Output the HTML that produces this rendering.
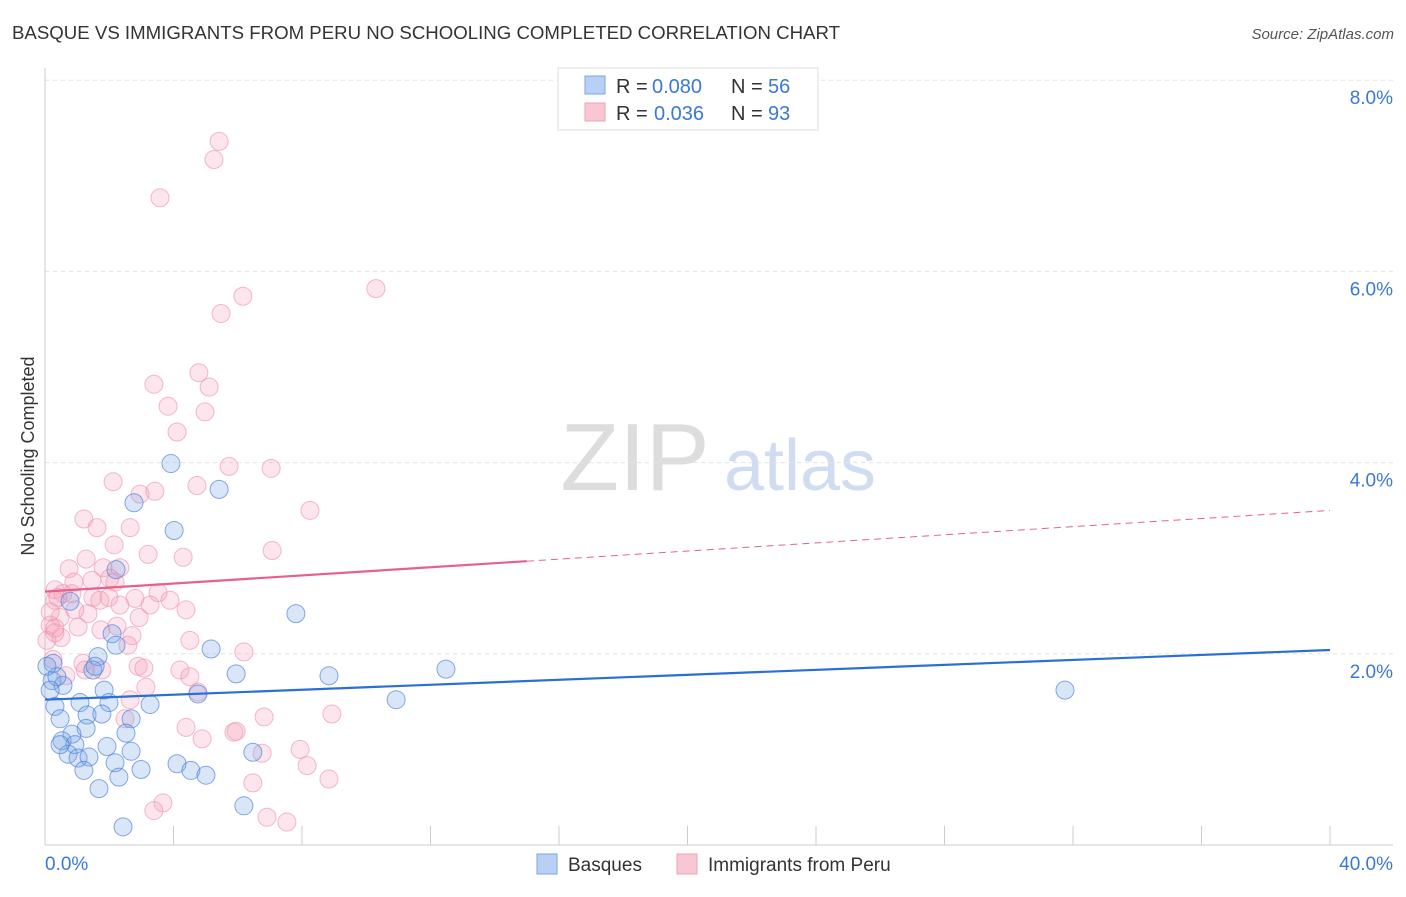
<!DOCTYPE html>
<html><head><meta charset="utf-8"><style>
body{margin:0;background:#fff;font-family:"Liberation Sans",sans-serif;}
svg text{font-family:"Liberation Sans",sans-serif;}
</style></head><body>
<svg id="chart" width="1406" height="892" viewBox="0 0 1406 892">
<text x="12" y="39" font-size="18" fill="#333" textLength="828" lengthAdjust="spacingAndGlyphs">BASQUE VS IMMIGRANTS FROM PERU NO SCHOOLING COMPLETED CORRELATION CHART</text>
<text x="1394" y="39" font-size="15" fill="#555" font-style="italic" text-anchor="end">Source: ZipAtlas.com</text>
<text transform="translate(34,456) rotate(-90)" font-size="18" fill="#333" text-anchor="middle">No Schooling Completed</text>
<g><text x="635" y="490" font-size="96" fill="#ddd" font-family="Liberation Serif" text-anchor="middle">ZIP</text><text x="800" y="490" font-size="72" fill="#cfdcf2" text-anchor="middle">atlas</text></g>
<g id="grid"></g><g id="axes"></g><g id="pts"></g><g id="trend"></g>
<g>
<rect x="558" y="68" width="260" height="62" fill="#fff" stroke="#ddd"/>
<rect x="585" y="76" width="20" height="18" fill="#b7d0f3" stroke="#7aa6e6"/>
<rect x="585" y="103" width="20" height="18" fill="#f9c6d4" stroke="#f0a0b8"/>
<text x="616" y="93" font-size="20" fill="#333">R =</text><text x="652" y="93" font-size="20" fill="#3a78d8">0.080</text><text x="731" y="93" font-size="20" fill="#333">N =</text><text x="768" y="93" font-size="20" fill="#3a78d8">56</text>
<text x="616" y="120" font-size="20" fill="#333">R =</text><text x="654" y="120" font-size="20" fill="#3a78d8">0.036</text><text x="731" y="120" font-size="20" fill="#333">N =</text><text x="768" y="120" font-size="20" fill="#3a78d8">93</text>
</g>
<g>
<rect x="537" y="854" width="20" height="20" fill="#b7d0f3" stroke="#7aa6e6"/>
<text x="568" y="871" font-size="19" fill="#333">Basques</text>
<rect x="677" y="854" width="20" height="20" fill="#f9c6d4" stroke="#f0a0b8"/>
<text x="708" y="871" font-size="19" fill="#333">Immigrants from Peru</text>
</g>
</svg>
<script>
const xTicks=[0,40];
const yTicks=[2,4,6,8];
const blueX=[3.92,5.42,2.77,4.02,7.81,2.21,0.78,2.09,2.21,5.17,1.65,0.25,1.49,5.95,8.84,12.48,0.22,1.84,4.76,0.56,10.93,31.75,0.31,1.09,1.99,3.27,1.31,1.77,0.47,2.68,1.28,0.84,0.53,2.52,0.93,1.93,2.68,0.72,1.03,1.37,2.18,4.11,4.54,5.01,1.21,2.99,2.30,6.47,1.68,6.19,2.43,0.37,0.16,1.56,0.47,0.06];
const blueY=[3.99,3.72,3.58,3.29,2.42,2.88,2.55,2.21,2.09,2.05,1.97,1.90,1.83,1.79,1.77,1.84,1.72,1.62,1.58,1.67,1.52,1.62,1.45,1.49,1.49,1.47,1.36,1.37,1.32,1.32,1.22,1.16,1.09,1.17,1.05,1.03,0.98,0.95,0.91,0.92,0.86,0.85,0.78,0.73,0.78,0.79,0.71,0.97,0.59,0.41,0.19,1.76,1.62,1.87,1.05,1.87];
const pinkX=[5.42,5.26,3.58,6.16,10.30,5.48,4.79,3.39,5.11,3.83,4.98,4.11,5.73,7.04,2.12,4.73,3.42,2.96,8.25,1.21,1.62,2.65,2.15,7.07,3.21,4.30,1.28,2.33,0.75,1.81,0.31,0.90,1.46,2.02,0.56,0.84,1.49,1.99,2.80,0.31,2.33,3.52,3.89,3.27,4.39,1.34,2.93,0.47,0.16,0.31,1.03,1.74,2.24,2.71,0.50,4.51,2.58,6.19,1.18,1.77,2.90,3.08,4.20,4.51,0.25,0.65,3.14,4.76,4.39,6.82,8.93,2.49,5.88,5.95,4.89,7.94,6.76,8.16,8.84,6.47,3.67,3.39,6.91,7.53,0.31,0.06,0.16,0.40,2.18,1.71,2.65,1.25,0.93];
const pinkY=[7.36,7.17,6.77,5.74,5.82,5.56,4.94,4.82,4.79,4.59,4.53,4.32,3.96,3.94,3.80,3.76,3.70,3.67,3.50,3.41,3.32,3.32,3.14,3.08,3.04,3.01,2.99,2.90,2.89,2.90,2.67,2.75,2.77,2.79,2.63,2.63,2.59,2.59,2.58,2.56,2.51,2.64,2.56,2.51,2.46,2.42,2.38,2.38,2.30,2.22,2.28,2.25,2.29,2.19,2.17,2.14,2.09,2.02,1.90,1.83,1.87,1.85,1.83,1.76,1.94,1.77,1.65,1.60,1.23,1.34,1.37,1.32,1.18,1.19,1.11,1.00,0.96,0.83,0.69,0.65,0.44,0.36,0.29,0.24,2.27,2.14,2.44,2.59,2.75,2.56,1.52,1.83,2.46];
const blueTrend=[1.52,2.04];
const pinkTrend=[2.65,3.50];
const pinkSolidEnd=15;

const X0=45,X1=1330,Y0=845,YS=95.6;
const sx=v=>X0+(v-0)*(X1-X0)/40;
const sy=v=>Y0-v*YS;
const NS="http://www.w3.org/2000/svg";
function mk(p,tag,a){const e=document.createElementNS(NS,tag);for(const k in a)e.setAttribute(k,a[k]);p.appendChild(e);return e;}
const grid=document.getElementById('grid'),axes=document.getElementById('axes'),pts=document.getElementById('pts'),tr=document.getElementById('trend');
yTicks.forEach(t=>{
 const l=mk(grid,'line',{x1:45,x2:1393,y1:sy(t),y2:sy(t),stroke:'#e2e2e2','stroke-dasharray':'4,4'});
 
 
 const tx=mk(grid,'text',{x:1393,y:sy(t)+24,'font-size':19,fill:'#3a78d8','text-anchor':'end'});
 tx.textContent=t.toFixed(1)+'%';
 
 
});
const ax=mk(axes,'line',{x1:45,x2:45,y1:68,y2:845,stroke:'#ccc'});


const bx=mk(axes,'line',{x1:45,x2:1393,y1:845,y2:845,stroke:'#ccc'});


for(let i=0;i<=10;i++){const v=i*4;const tk=mk(axes,'line',{x1:sx(v),x2:sx(v),y1:826,y2:845,stroke:'#ccc'});
 
 }
xTicks.forEach((t,i)=>{const tx=mk(axes,'text',{x:i==0?sx(t):1393,y:870,'font-size':19,fill:'#3a78d8','text-anchor':i==0?'start':'end'});
 tx.textContent=t.toFixed(1)+'%';
 
 });
function dots(xs,ys,fill,stroke,name){xs.forEach((x,i)=>{const c=mk(pts,'circle',{cx:sx(x),cy:sy(ys[i]),r:9,fill:fill,stroke:stroke,'stroke-width':1});
 
 });}
dots(pinkX,pinkY,'rgba(244,160,188,0.28)','rgba(236,140,172,0.6)','peru-point');
dots(blueX,blueY,'rgba(120,165,230,0.28)','rgba(70,125,215,0.65)','basque-point');
const bl=mk(tr,'line',{x1:sx(0),y1:sy(blueTrend[0]),x2:sx(40),y2:sy(blueTrend[1]),stroke:'#2a6fd6','stroke-width':2.2});


const pm=pinkTrend[0]+(pinkTrend[1]-pinkTrend[0])*pinkSolidEnd/40;
const pl=mk(tr,'line',{x1:sx(0),y1:sy(pinkTrend[0]),x2:sx(pinkSolidEnd),y2:sy(pm),stroke:'#e8608a','stroke-width':2.2});


const pd=mk(tr,'line',{x1:sx(pinkSolidEnd),y1:sy(pm),x2:sx(40),y2:sy(pinkTrend[1]),stroke:'#e8608a','stroke-width':1,'stroke-dasharray':'7,5'});


</script>
</body></html>
